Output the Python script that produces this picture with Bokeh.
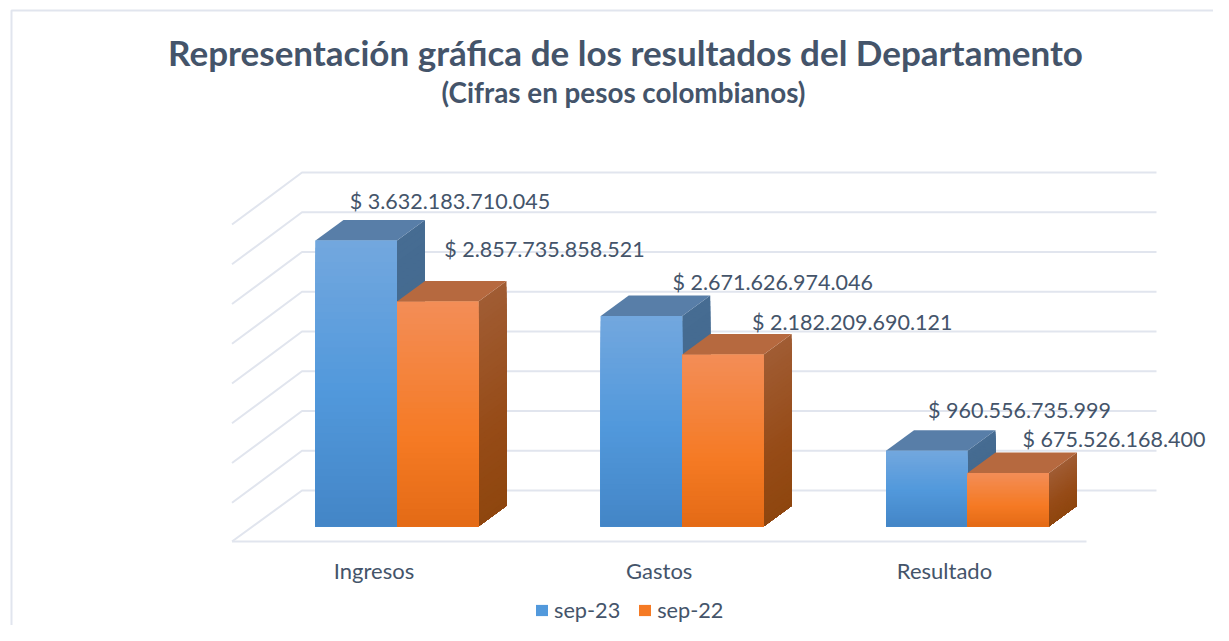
from bokeh.core.properties import value
from bokeh.embed import file_html
from bokeh.models import ColumnDataSource, Legend, LegendItem, Range1d
from bokeh.plotting import figure
from bokeh.resources import INLINE

# ---- data -------------------------------------------------------------
categories = ["Ingresos", "Gastos", "Resultado"]
series_names = ["sep-23", "sep-22"]
sep_23 = [3632183710045, 2671626974046, 960556735999]
sep_22 = [2857735858521, 2182209690121, 675526168400]
label_23 = ["$ 3.632.183.710.045", "$ 2.671.626.974.046", "$ 960.556.735.999"]
label_22 = ["$ 2.857.735.858.521", "$ 2.182.209.690.121", "$ 675.526.168.400"]
wall_ticks = [0, 5e11, 1e12, 1.5e12, 2e12, 2.5e12, 3e12, 3.5e12, 4e12]
title_main = "Representación gráfica de los resultados del Departamento"
title_sub = "(Cifras en pesos colombianos)"

# ---- layout (picture pixels) --------------------------------------------
W, H = 1213, 625
GROUP_PX = 285.25          # px per category
VALUE_PX = 285.7 / 3632183710045  # px per peso
X0_PAGE = 396.5            # x of first category
Y0_PAGE = 525.7            # y of value zero
BAR = 81.5 / GROUP_PX      # bar width in category units
DEPTH_X, DEPTH_Y = 28, 20.5
WALL_BASE, WALL_STEP = 490, 39.75
WALL_DX, WALL_DY = 70, 52
WALL_LEFT, WALL_RIGHT, FLOOR_Y = 301.5, 1156, 541

x_start = -X0_PAGE / GROUP_PX
x_end = x_start + W / GROUP_PX
y_start = (Y0_PAGE - H) / VALUE_PX
y_end = y_start + H / VALUE_PX


def px(x):
    return (x - X0_PAGE) / GROUP_PX


def py(y):
    return (Y0_PAGE - y) / VALUE_PX


dX = DEPTH_X / GROUP_PX
dY = DEPTH_Y / VALUE_PX

GRID = "#E1E5EE"
TEXT = "#44546A"
FONT = value("Lato")

p = figure(width=W, height=H, output_backend="svg", toolbar_location=None,
           x_range=Range1d(x_start, x_end), y_range=Range1d(y_start, y_end),
           min_border=0, outline_line_color=None, background_fill_color="white",
           border_fill_color="white")
p.axis.visible = False
p.grid.visible = False

# frame of the chart area: top and left only
p.line([px(11), px(11), px(W)], [py(H), py(10), py(10)], line_color=GRID, line_width=2)

# back wall + side wall lines, drawn from the axis ticks
for i, t in enumerate(wall_ticks):
    y_back = WALL_BASE - t / wall_ticks[1] * WALL_STEP
    y_front = y_back + (WALL_DY - (1 if i == 0 else 0))
    p.line([px(WALL_LEFT - WALL_DX), px(WALL_LEFT), px(WALL_RIGHT)],
           [py(y_front), py(y_back), py(y_back)], line_color=GRID, line_width=2)
p.line([px(WALL_LEFT - WALL_DX), px(WALL_RIGHT - WALL_DX)], [py(FLOOR_Y), py(FLOOR_Y)],
       line_color=GRID, line_width=2)


def hx(c):
    return tuple(int(c[i:i + 2], 16) for i in (1, 3, 5))


def ramp(stops, f):
    for (a, ca), (b, cb) in zip(stops, stops[1:]):
        if f <= b:
            t = (f - a) / (b - a)
            A, B = hx(ca), hx(cb)
            return "#%02x%02x%02x" % tuple(round(A[k] + (B[k] - A[k]) * t) for k in range(3))
    return stops[-1][1]


STEPS = 40
styles = [
    dict(front=[(0, "#72A7DE"), (.5, "#5299DC"), (1, "#4385C6")], side=[(0, "#466C92"), (1, "#3F6589")],
         top="#587EA8", mid="#5299DC"),
    dict(front=[(0, "#F38D56"), (.6, "#F57A24"), (1, "#E36A15")], side=[(0, "#A05C33"), (.6, "#964B17"), (1, "#8E460E")],
         top="#B6693F", mid="#F57A24"),
]

legend_items = []
for s, values in enumerate([sep_23, sep_22]):
    st = styles[s]
    left = [i - BAR if s == 0 else i for i in range(len(categories))]
    right = [x + BAR for x in left]
    # the whole bar (also the legend's key)
    whole = p.quad(left=left, right=right, bottom=[0] * 3, top=values,
                   fill_color=st["mid"], line_color=None)
    legend_items.append(LegendItem(label=series_names[s], renderers=[whole]))
    for x0, x1, v in zip(left, right, values):
        # side face, nested strips for the shading
        for k in range(STEPS):
            f = k / STEPS
            vv = v * (1 - f)
            p.patch([x1, x1 + dX, x1 + dX, x1], [0, dY, vv + dY, vv],
                    fill_color=ramp(st["side"], f), line_color=None)
        # top face
        p.patch([x0, x1, x1 + dX, x0 + dX], [v, v, v + dY, v + dY], fill_color=st["top"],
                line_color=None)
        # front face, nested strips for the shading
        p.quad(left=[x0] * STEPS, right=[x1] * STEPS, bottom=[0] * STEPS,
               top=[v * (1 - k / STEPS) for k in range(STEPS)],
               fill_color=[ramp(st["front"], k / STEPS) for k in range(STEPS)], line_color=None)

# data labels: nudged from the top of their bars (px)
nudge_x = [[134.5, 172, 133.5], [147.5, 170, 146.5]]
nudge_y = [[40, 34.5, 41], [52, 33, 34]]
for s, (values, labels) in enumerate([(sep_23, label_23), (sep_22, label_22)]):
    left = [i - BAR if s == 0 else i for i in range(3)]
    src = ColumnDataSource(dict(
        x=[l + n / GROUP_PX for l, n in zip(left, nudge_x[s])],
        y=[v + n / VALUE_PX for v, n in zip(values, nudge_y[s])],
        t=labels))
    p.text("x", "y", text="t", source=src, text_font=FONT, text_font_size="21.5px", text_color=TEXT,
           text_align="center", text_baseline="middle")

# category labels
p.text([i - 23 / GROUP_PX for i in range(3)], [py(570)] * 3, text=categories, text_font=FONT,
       text_font_size="22px", text_color=TEXT, text_align="center", text_baseline="middle")

# titles
cx = px(625)
p.text([cx], [py(51)], text=[title_main], text_font=FONT, text_font_style="bold", text_font_size="35px",
       text_color=TEXT, text_align="center", text_baseline="middle")
p.text([cx - 2 / GROUP_PX], [py(92)], text=[title_sub], text_font=FONT, text_font_style="bold", text_font_size="27.8px",
       text_color=TEXT, text_align="center", text_baseline="middle")

legend = Legend(items=legend_items, orientation="horizontal", location=(534, 2), padding=0, margin=0,
                spacing=17, glyph_width=15, glyph_height=14, label_standoff=5, border_line_color=None,
                background_fill_alpha=0, label_text_font="Lato", label_text_font_size="21.7px",
                label_text_color=TEXT)
p.add_layout(legend)

open("out.html", "w").write(file_html(p, INLINE))
